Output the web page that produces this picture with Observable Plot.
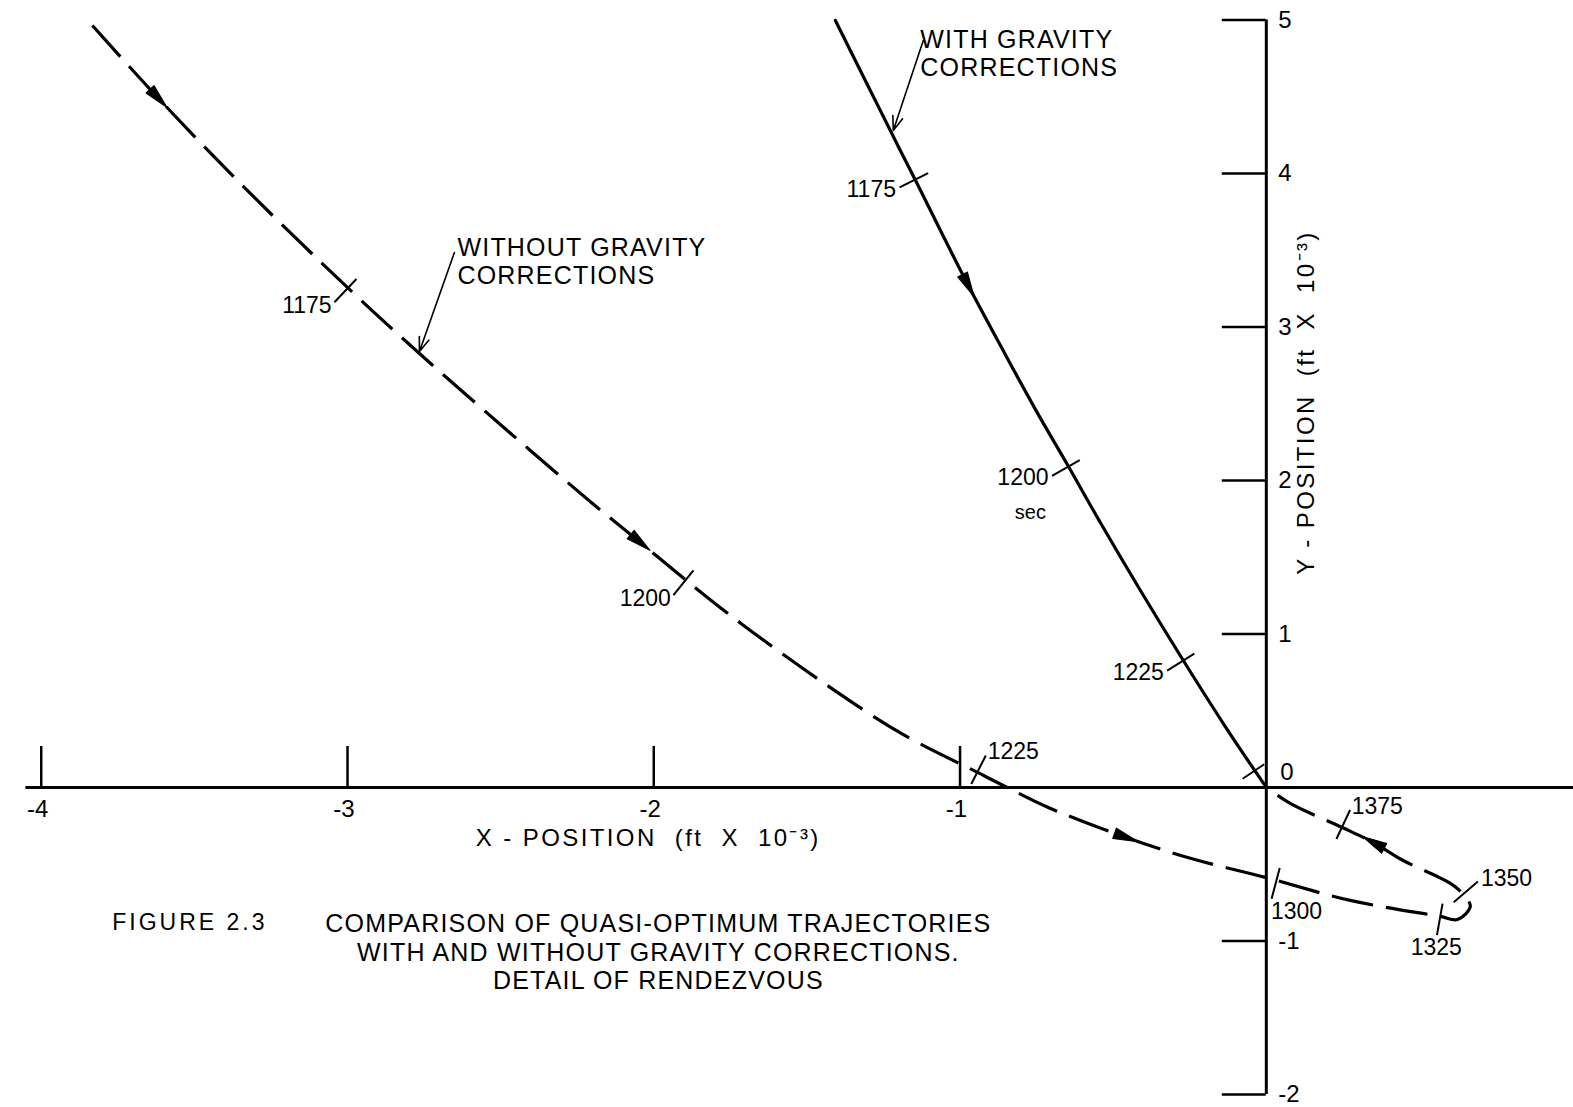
<!DOCTYPE html>
<html>
<head>
<meta charset="utf-8">
<script src="https://cdn.jsdelivr.net/npm/d3@7"></script>
<script src="https://cdn.jsdelivr.net/npm/@observablehq/plot@0.6"></script>
<style>
  html, body { margin: 0; padding: 0; background: #fff; }
  #chart svg { display: block; }
</style>
</head>
<body>
<div id="chart"></div>
<script>
// ---------------- DATA (x, y in ft × 10^-3) ----------------
// Trajectory WITH gravity corrections (solid), in order of motion
const withGravity = [
  [-1.407, 4.997], [-1.293, 4.541], [-1.195, 4.150], [-1.146, 3.958], [-1.064, 3.629],
  [-0.973, 3.270], [-0.868, 2.879], [-0.754, 2.463], [-0.646, 2.091], [-0.542, 1.726],
  [-0.411, 1.283], [-0.271, 0.827], [-0.134, 0.397], [0, 0]
];
// Trajectory WITHOUT gravity corrections (dashed), in order of motion
const withoutGravity = [
  [-3.833, 4.964], [-3.617, 4.489], [-3.350, 3.935], [-2.997, 3.251], [-2.765, 2.827],
  [-2.471, 2.313], [-2.204, 1.857], [-2.044, 1.596], [-1.894, 1.349], [-1.711, 1.062],
  [-1.443, 0.678], [-1.192, 0.352], [-0.943, 0.098], [-0.846, 0.000], [-0.712, -0.130],
  [-0.457, -0.326], [-0.245, -0.463], [-0.003, -0.586], [0.274, -0.736], [0.568, -0.840],
  [0.624, -0.860], [0.666, -0.775], [0.643, -0.697], [0.601, -0.625], [0.447, -0.476],
  [0.349, -0.358], [0.248, -0.261], [0.078, -0.104], [0, 0]
];
// Time marks (seconds) along each trajectory
const timeMarkSeries = ["with", "with", "with", "with",
  "without", "without", "without", "without", "without", "without", "without"];
const timeMarkLabels = ["1175", "1200", "1225", "",
  "1175", "1200", "1225", "1300", "1325", "1350", "1375"];
const timeMarkX = [-1.142, -0.646, -0.271, -0.042, -3.000, -1.897, -0.944, 0.033, 0.568, 0.644, 0.247];
const timeMarkY = [3.965, 2.091, 0.827, 0.104, 3.251, 1.349, 0.098, -0.606, -0.840, -0.693, -0.259];
// Direction-of-motion arrowheads
const arrowSeries = ["with", "without", "without", "without", "without"];
const arrowX = [-0.973, -3.617, -2.044, -0.457, 0.349];
const arrowY = [3.270, 4.489, 1.596, -0.326, -0.358];
// Axes
const xTicks = [-4, -3, -2, -1];
const xTickLabels = ["-4", "-3", "-2", "-1"];
const yTicks = [-2, -1, 1, 2, 3, 4, 5];
const yTickLabels = ["-2", "-1", "1", "2", "3", "4", "5"];
const xAxisStart = -4.05;
const yAxisExtent = [-2, 5];
// Annotations
const annotations = [
  {text: "WITH GRAVITY\nCORRECTIONS", x: -1.130, y: 4.788, x1: -1.120, y1: 4.866, x2: -1.218, y2: 4.280},
  {text: "WITHOUT GRAVITY\nCORRECTIONS", x: -2.641, y: 3.427, x1: -2.651, y1: 3.485, x2: -2.765, y2: 2.840}
];
const secNote = {text: "sec", x: -0.7705, y: 1.7915};
const captionHead = {text: "FIGURE 2.3", x: -3.768, y: -0.879};
const captionBody = {text: "COMPARISON OF QUASI-OPTIMUM TRAJECTORIES\nWITH AND WITHOUT GRAVITY CORRECTIONS.\nDETAIL OF RENDEZVOUS", x: -1.985, y: -1.068};
const xTitle = {text: "X - POSITION\u00a0\u00a0(ft\u00a0\u00a0X\u00a0\u00a010⁻³)", x: -2.018};
const yTitle = {text: "Y - POSITION\u00a0\u00a0(ft\u00a0\u00a0X\u00a0\u00a010⁻³)", y: 2.508};

// ---------------- LAYOUT ----------------
const W = 1573, H = 1107;
const xDomain = [-4.133, 1.003], yDomain = [-2.085, 5.127];
const kx = W / (xDomain[1] - xDomain[0]);
const ky = H / (yDomain[1] - yDomain[0]);
const FONT = "Liberation Sans, Arial, sans-serif";
const curves = {with: withGravity, without: withoutGravity};
// which side of the curve each time label sits (+1 = right of travel direction)
const labelSide = [1, 1, 1, 1, 1, 1, -1, 1, 1, 1, 1];
// horizontal nudge (px) for labels that avoid the Y axis
const labelNudge = [0, 0, 0, 0, 0, 0, 0, 26, 0, 0, 0];

// pixel-space unit tangent (y down) at nearest vertex
function tangent(curve, x, y) {
  let best = 0, bd = Infinity;
  curve.forEach(([cx, cy], i) => {
    const d = ((cx - x) * kx) ** 2 + ((cy - y) * ky) ** 2;
    if (d < bd) { bd = d; best = i; }
  });
  const a = curve[Math.max(0, best - 1)], b = curve[Math.min(curve.length - 1, best + 1)];
  const dx = (b[0] - a[0]) * kx, dy = -(b[1] - a[1]) * ky;
  const n = Math.hypot(dx, dy);
  return [dx / n, dy / n];
}

const lineData = withGravity.map(([x, y]) => ({x, y, series: "with"}));
const dashData = withoutGravity.map(([x, y]) => ({x, y, series: "without"}));

const TICK_IN = 13, TICK_OUT = 19, LABEL_D = 23;
const marks = timeMarkX.map((x, i) => {
  const y = timeMarkY[i];
  const [dx, dy] = tangent(curves[timeMarkSeries[i]], x, y);
  const s = labelSide[i];
  const px = -dy * s, py = dx * s; // perpendicular toward label side, pixel space
  const anchor = px > 0.35 ? "start" : px < -0.35 ? "end" : "middle";
  const vAnchor = anchor !== "middle" ? "middle" : (py > 0 ? "top" : "bottom");
  const out = timeMarkLabels[i] ? TICK_OUT : TICK_IN;
  return {
    label: timeMarkLabels[i],
    x1: x - px * TICK_IN / kx, y1: y + py * TICK_IN / ky,
    x2: x + px * out / kx, y2: y - py * out / ky,
    lx: x + (px * LABEL_D + labelNudge[i]) / kx, ly: y - py * LABEL_D / ky,
    anchor, vAnchor
  };
});

const arrows = arrowX.map((x, i) => {
  const y = arrowY[i];
  const [dx, dy] = tangent(curves[arrowSeries[i]], x, y);
  return {x, y, rotate: Math.atan2(dx, -dy) * 180 / Math.PI};
});

const arrowShape = {
  draw(context, l) {
    const w = 5.5;
    context.moveTo(0, -l);
    context.lineTo(w, 0);
    context.lineTo(-w, 0);
    context.closePath();
  }
};

const labelGroups = [];
for (const anchor of ["start", "middle", "end"]) {
  for (const vAnchor of ["top", "middle", "bottom"]) {
    const d = marks.filter(m => m.label && m.anchor === anchor && m.vAnchor === vAnchor);
    if (d.length) labelGroups.push(Plot.text(d, {
      x: "lx", y: "ly", text: "label", textAnchor: anchor, lineAnchor: vAnchor,
      fontSize: 23, fontFamily: FONT, fill: "black"
    }));
  }
}

const plot = Plot.plot({
  width: W, height: H,
  marginTop: 0, marginRight: 0, marginBottom: 0, marginLeft: 0,
  x: {domain: xDomain, axis: null},
  y: {domain: yDomain, axis: null},
  style: {fontFamily: FONT, background: "white", color: "black", overflow: "visible"},
  marks: [
    // axes lines
    Plot.ruleY([0], {x1: xAxisStart, x2: xDomain[1], stroke: "black", strokeWidth: 3}),
    Plot.ruleX([0], {y1: yAxisExtent[0], y2: yAxisExtent[1], stroke: "black", strokeWidth: 3}),
    // x ticks (above axis)
    Plot.ruleX(xTicks, {x: d => d, y1: 0, y2: 41 / ky, stroke: "black", strokeWidth: 2.5}),
    Plot.text(xTicks, {x: d => d, y: 0, text: (d, i) => xTickLabels[i], dy: 22, dx: 7,
      textAnchor: "end", fontSize: 24, fontFamily: FONT}),
    // y ticks (left of axis)
    Plot.ruleY(yTicks, {y: d => d, x1: -44 / kx, x2: 0, stroke: "black", strokeWidth: 2.5}),
    Plot.text(yTicks, {x: 0, y: d => d, text: (d, i) => yTickLabels[i], dx: 12,
      textAnchor: "start", fontSize: 24, fontFamily: FONT}),
    Plot.text([0], {x: 0, y: 0, text: d => String(d), dx: 14, dy: -15,
      textAnchor: "start", fontSize: 24, fontFamily: FONT}),
    // axis titles
    Plot.text([xTitle], {x: "x", y: 0, text: "text", dy: 51, fontSize: 24, fontFamily: FONT}),
    Plot.text([yTitle], {x: 0, y: "y", text: "text", dx: 40, rotate: -90, fontSize: 24, fontFamily: FONT}),
    // trajectories
    Plot.line(lineData, {x: "x", y: "y", curve: "catmull-rom", stroke: "black", strokeWidth: 3.2}),
    Plot.line(dashData, {x: "x", y: "y", curve: "catmull-rom", stroke: "black", strokeWidth: 3.2,
      strokeDasharray: "42,13", strokeLinecap: "butt"}),
    // time tick marks
    Plot.link(marks, {x1: "x1", y1: "y1", x2: "x2", y2: "y2", stroke: "black", strokeWidth: 2}),
    ...labelGroups,
    Plot.text([secNote], {x: "x", y: "y", text: "text", fontSize: 20, fontFamily: FONT}),
    // direction arrows
    Plot.vector(arrows, {x: "x", y: "y", rotate: "rotate", length: 25, anchor: "middle",
      shape: arrowShape, fill: "black", stroke: "black", strokeWidth: 1}),
    // annotations
    Plot.arrow(annotations, {x1: "x1", y1: "y1", x2: "x2", y2: "y2", stroke: "black",
      strokeWidth: 1.6, headLength: 14, headAngle: 40}),
    Plot.text(annotations, {x: "x", y: "y", text: "text", textAnchor: "start", lineAnchor: "middle",
      lineHeight: 1.12, fontSize: 25, fontFamily: FONT}),
    // caption
    Plot.text([captionHead], {x: "x", y: "y", text: "text", textAnchor: "start",
      fontSize: 23, fontFamily: FONT}),
    Plot.text([captionBody], {x: "x", y: "y", text: "text", textAnchor: "middle", lineAnchor: "middle",
      lineHeight: 1.14, fontSize: 25, fontFamily: FONT})
  ]
});

function spaceText(match, spacing) {
  plot.querySelectorAll("text").forEach(t => {
    if (t.textContent.includes(match)) t.style.letterSpacing = spacing;
  });
}
spaceText("FIGURE", "3px");
spaceText("COMPARISON", "3.5px");
spaceText("GRAVITY", "1.2px");
spaceText("POSITION", "2.4px");
document.getElementById("chart").appendChild(plot);
</script>
</body>
</html>
